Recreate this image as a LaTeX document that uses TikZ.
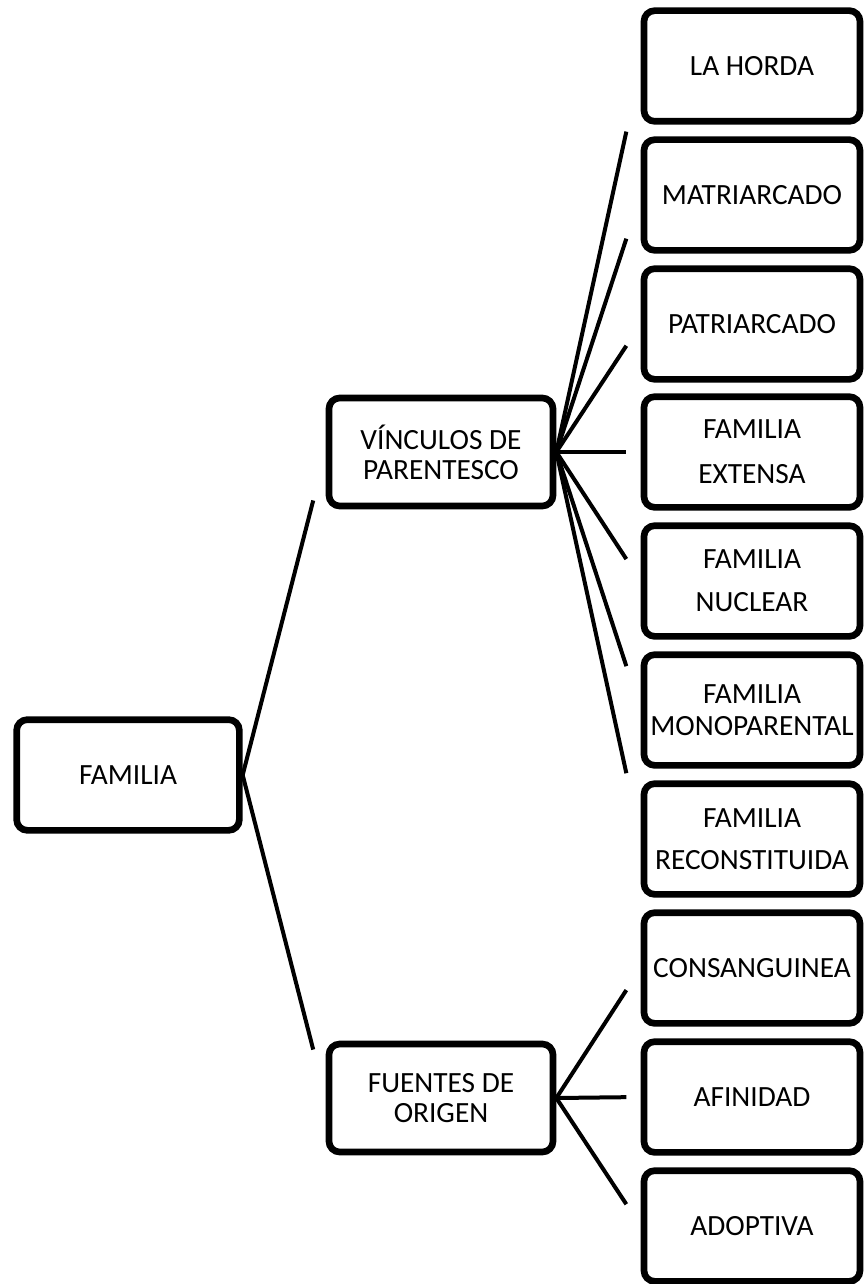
\documentclass[tikz,border=0pt]{standalone}
\usepackage{fontspec}
\setmainfont{Carlito}
\usetikzlibrary{calc,shadows}
\tikzset{
  box/.style={draw, line width=5pt, rounded corners=8pt, fill=white,
    align=center, inner sep=0pt, minimum width=162pt, minimum height=83pt,
    font=\fontsize{22}{22.5}\selectfont,
    drop shadow={opacity=0.25, shadow xshift=1pt, shadow yshift=-2pt}},
  wide/.style={minimum width=168pt, minimum height=81pt},
  link/.style={line width=3pt}
}
\newcommand{\branch}[2]{
\draw[link] (#1.east) -- ($(#1.east)!0.83!(#2.west)$);
}

\begin{document}
\begin{tikzpicture}[x=0.75pt, y=-0.75pt]
\useasboundingbox (0,0) rectangle (864,1284);
\path (128,775) node[box, minimum width=167pt] (fam) {FAMILIA};
\path (441,452) node[box, wide] (vinc) {VÍNCULOS DE\\PARENTESCO};
\path (441,1098) node[box, wide] (fuen) {FUENTES DE\\ORIGEN};
% right column
\path (752,66) node[box] (horda) {LA HORDA};
\path (752,195) node[box] (matri) {MATRIARCADO};
\path (752,324) node[box] (patri) {PATRIARCADO};
\path (752,452) node[box] (exten) {FAMILIA\\[11.5pt]EXTENSA};
\path (752,581) node[box] (nucle) {FAMILIA\\[9.5pt]NUCLEAR};
\path (752,710) node[box] (mono) {FAMILIA\\[1.5pt]MONOPARENTAL};
\path (752,839) node[box] (recon) {FAMILIA\\[9pt]RECONSTITUIDA};
\path (752,968) node[box] (consa) {CONSANGUINEA};
\path (752,1097) node[box] (afini) {AFINIDAD};
\path (752,1226) node[box] (adopt) {ADOPTIVA};
% connectors
\draw[link] (fam.east) -- ($(fam.east)!0.85!(vinc.west)$);
\draw[link] (fam.east) -- ($(fam.east)!0.85!(fuen.west)$);
\branch{vinc}{horda}
\branch{vinc}{matri}
\branch{vinc}{patri}
\branch{vinc}{exten}
\branch{vinc}{nucle}
\branch{vinc}{mono}
\branch{vinc}{recon}
\branch{fuen}{consa}
\branch{fuen}{afini}
\branch{fuen}{adopt}
\end{tikzpicture}
\end{document}
